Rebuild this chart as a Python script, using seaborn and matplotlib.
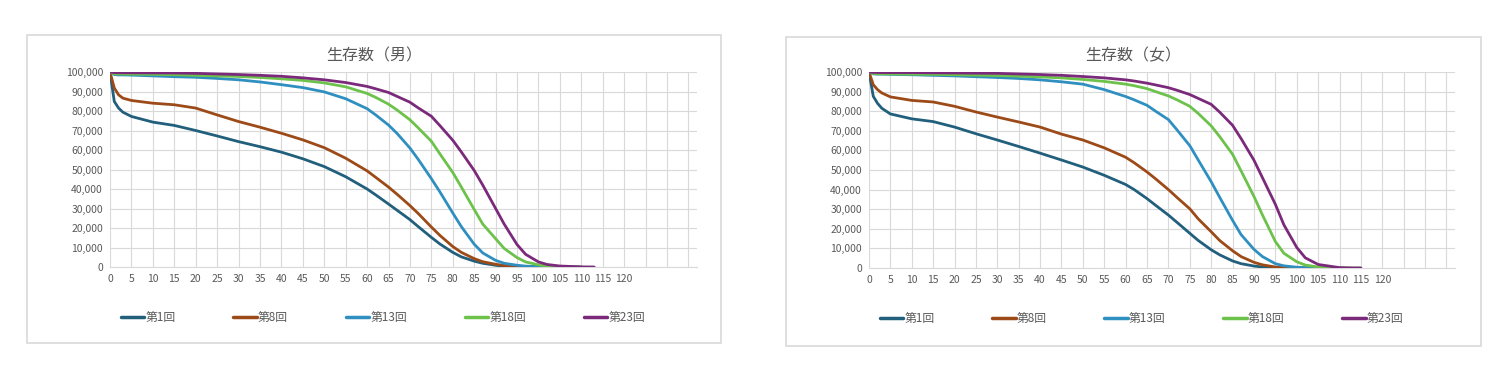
import numpy as np
import pandas as pd
import matplotlib
matplotlib.use("Agg")
import matplotlib.pyplot as plt
from matplotlib.patches import Rectangle
import seaborn as sns

nan = np.nan

# Ages (x categories) shared by every series
AGES = [0, 1, 2, 3, 5, 10, 15, 20, 25, 30, 35, 40, 45, 50, 55,
        60, 62, 65, 67, 70, 72, 75, 77, 80, 82, 85, 87, 90, 92, 95, 97, 100, 102,
        105, 110, 113, 115]

SERIES = ["第1回", "第8回", "第13回", "第18回", "第23回"]
COLORS = ["#215F7C", "#9C4A18", "#2E8FC0", "#6CC24A", "#7B2A7B"]

# Male survivors (生存数（男）)
male_1 = [100000, 84900, 81500, 79400, 77200, 74300, 72600, 70000, 67200, 64300, 61700, 58900, 55500, 51500, 46300,
          40000, 37000, 32300, 29100, 24300, 20600, 15200, 11800, 7500, 5200, 3000, 1900, 900, 450, 150, 50, 10, 0,
          0, nan, nan, nan]
male_8 = [100000, 91800, 88300, 86600, 85400, 84000, 83200, 81500, 78000, 74600, 71700, 68600, 65200, 61200, 55800,
          49300, 46000, 41000, 37300, 31500, 27300, 20500, 16200, 10500, 7500, 4300, 2700, 1400, 750, 300, 100, 30, 10,
          0, nan, nan, nan]
male_13 = [100000, 98700, 98500, 98500, 98400, 98000, 97600, 97300, 96700, 96000, 94900, 93500, 92000, 89800, 86300,
           81200, 78000, 72800, 68500, 61000, 55000, 45300, 38500, 27700, 20700, 11700, 7200, 3400, 1900, 900, 450, 150, 60,
           20, 0, nan, nan]
male_18 = [100000, 99100, 99000, 98950, 98900, 98800, 98600, 98300, 98000, 97700, 97200, 96500, 95700, 94400, 92400,
           89000, 87000, 83500, 80500, 75500, 71200, 64500, 58000, 48500, 41000, 29500, 22000, 14500, 9500, 4800, 2600, 1100, 500,
           150, 10, nan, nan]
male_23 = [100000, 99700, 99650, 99600, 99600, 99550, 99500, 99300, 99000, 98700, 98300, 97800, 97000, 96000, 94600,
           92600, 91400, 89500, 87500, 84500, 81500, 77300, 72500, 65000, 59000, 49500, 42000, 30000, 22000, 11500, 6500, 2600, 1300,
           500, 60, 0, nan]

# Female survivors (生存数（女）)
female_1 = [100000, 87600, 84000, 81500, 78600, 76100, 74700, 71900, 68500, 65300, 62000, 58600, 55100, 51500, 47300,
            42600, 40000, 35400, 32000, 27000, 23300, 17700, 14000, 9300, 6700, 3600, 2200, 1000, 500, 150, 50, 10, 0,
            0, nan, nan, nan]
female_8 = [100000, 93500, 91000, 89300, 87300, 85500, 84700, 82500, 79600, 77000, 74500, 71900, 68300, 65300, 61300,
            56500, 53700, 49000, 45500, 40000, 36000, 30200, 25000, 18500, 14000, 8800, 5800, 2900, 1600, 500, 200, 50, 10,
            0, nan, nan, nan]
female_13 = [100000, 99000, 98900, 98900, 98800, 98600, 98300, 98000, 97600, 97200, 96700, 96000, 95000, 93800, 91000,
             87500, 85800, 83000, 80000, 75700, 70500, 62400, 55000, 44000, 36000, 24300, 17000, 9500, 5800, 2200, 1100, 400, 150,
             30, 0, nan, nan]
female_18 = [100000, 99200, 99100, 99050, 99000, 98900, 98800, 98600, 98400, 98200, 97900, 97500, 97000, 96200, 95200,
             93800, 93000, 91500, 90000, 87800, 85800, 82500, 78800, 72500, 67000, 58000, 49500, 36500, 27000, 13500, 7500, 3200, 1500,
             500, 50, 5, 0]
female_23 = [100000, 99800, 99750, 99700, 99700, 99700, 99600, 99500, 99400, 99300, 99000, 98700, 98300, 97700, 97000,
             96000, 95400, 94300, 93400, 92000, 90700, 88500, 86500, 83500, 79500, 72800, 66000, 55000, 46000, 32500, 22000, 10500, 5200,
             1800, 200, 20, 0]

MALE = [male_1, male_8, male_13, male_18, male_23]
FEMALE = [female_1, female_8, female_13, female_18, female_23]


def to_long(values_list):
    frames = []
    for name, vals in zip(SERIES, values_list):
        frames.append(pd.DataFrame({"age": AGES, "survivors": vals, "series": name}))
    return pd.concat(frames).dropna()


sns.set_style("white")
plt.rcParams["font.family"] = ["Noto Sans CJK JP", "DejaVu Sans"]

W, H = 1510, 376
fig = plt.figure(figsize=(W / 100, H / 100), dpi=100)
fig.patch.set_facecolor("white")

grey_text = "#595959"
grid_col = "#D9D9D9"

panels = [
    ("生存数（男）", MALE, (27, 35, 721, 343), (110, 72, 697, 267)),
    ("生存数（女）", FEMALE, (786, 37, 1481, 346), (869, 72, 1455, 268)),
]

for title, data, box, plot in panels:
    # chart area border
    bx0, by0, bx1, by1 = box
    fig.patches.append(Rectangle((bx0 / W, 1 - by1 / H), (bx1 - bx0) / W, (by1 - by0) / H,
                                 transform=fig.transFigure, fill=False,
                                 edgecolor=grid_col, linewidth=1.2))
    fig.text((bx0 + bx1) / 2 / W, 1 - 56 / H, title, ha="center", va="center",
             fontsize=11.5, color=grey_text)

    px0, py0, px1, py1 = plot
    ax = fig.add_axes([px0 / W, 1 - py1 / H, (px1 - px0) / W, (py1 - py0) / H])
    df = to_long(data)
    sns.lineplot(data=df, x="age", y="survivors", hue="series", hue_order=SERIES,
                 palette=COLORS, linewidth=2, estimator=None, sort=False, ax=ax, zorder=3)

    ax.set_xlim(0, 137)
    ax.set_ylim(0, 100000)
    xt = list(range(0, 140, 5))
    ax.set_xticks(xt)
    ax.set_xticklabels([str(v) if v <= 120 else "" for v in xt])
    yt = list(range(0, 100001, 10000))
    ax.set_yticks(yt)
    ax.set_yticklabels([f"{v:,}" for v in yt])
    ax.grid(True, color=grid_col, linewidth=0.8, zorder=0)
    ax.set_axisbelow(True)
    for s in ["left", "top", "right"]:
        ax.spines[s].set_visible(False)
    ax.spines["bottom"].set_color(grid_col)
    ax.tick_params(length=0, labelsize=7.5, colors=grey_text, pad=5)
    ax.set_xlabel("")
    ax.set_ylabel("")

    handles, labels = ax.get_legend_handles_labels()
    for h in handles:
        h.set_linewidth(2.5)
    ax.legend(handles, labels, loc="center", bbox_to_anchor=(0.0, -0.30, 0.93, 0.08),
              mode="expand", ncol=5, frameon=False, handlelength=2.0, handletextpad=0.1,
              fontsize=8.5, labelcolor=grey_text)

fig.savefig("out.png", dpi=100, facecolor="white")
